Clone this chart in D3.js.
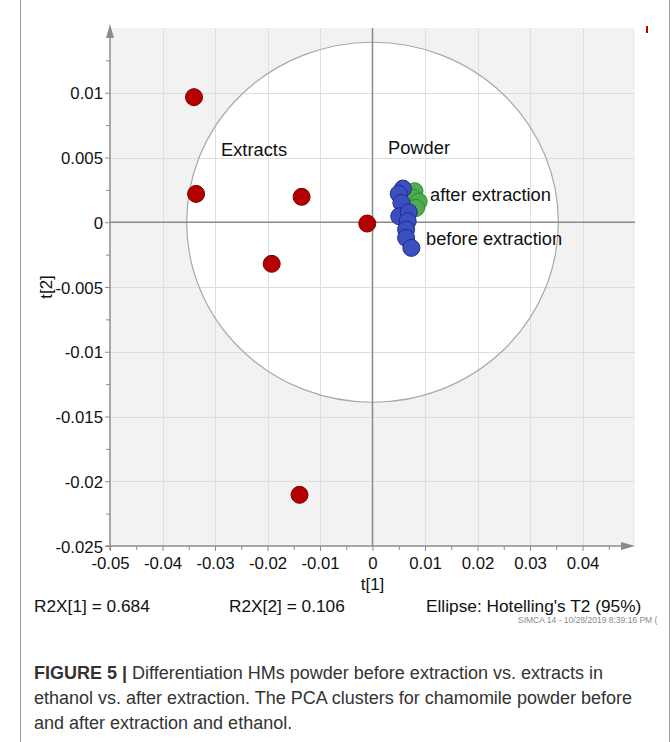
<!DOCTYPE html>
<html>
<head>
<meta charset="utf-8">
<script src="https://cdn.jsdelivr.net/npm/d3@7/dist/d3.min.js"></script>
<style>
  html, body { margin: 0; padding: 0; background: #fff; }
  svg { display: block; font-family: "Liberation Sans", Arial, sans-serif; }
</style>
</head>
<body>
<svg id="chart" width="672" height="742"></svg>
<script>
// PCA score plot (t[1] vs t[2]) with Hotelling's T2 ellipse
const extractsT1 = [-0.0340, -0.0336, -0.0135, -0.0010, -0.0192, -0.0139];
const extractsT2 = [0.00966, 0.00219, 0.00196, -0.00010, -0.00321, -0.02105];

const afterT1 = [0.0080, 0.0077, 0.0088, 0.0083];
const afterT2 = [0.0024, 0.0019, 0.0016, 0.0011];

const beforeT1 = [0.0058, 0.0050, 0.0055, 0.0051, 0.0069, 0.0067, 0.0064, 0.0064, 0.0074];
const beforeT2 = [0.0026, 0.0022, 0.0015, 0.00046, 0.00077, 0.00008, -0.00056, -0.00121, -0.00198];

const xTicks = [-0.05, -0.04, -0.03, -0.02, -0.01, 0, 0.01, 0.02, 0.03, 0.04];
const yTicks = [0.01, 0.005, 0, -0.005, -0.01, -0.015, -0.02, -0.025];
const xTickLabels = ["-0.05", "-0.04", "-0.03", "-0.02", "-0.01", "0", "0.01", "0.02", "0.03", "0.04"];
const yTickLabels = ["0.01", "0.005", "0", "-0.005", "-0.01", "-0.015", "-0.02", "-0.025"];

// Hotelling's T2 (95%) ellipse semi-axes
const ellipseT1 = 0.0354;
const ellipseT2 = 0.0139;

const stats = ["R2X[1] = 0.684", "R2X[2] = 0.106", "Ellipse: Hotelling's T2 (95%)"];

const svg = d3.select("#chart");

const x = d3.scaleLinear().domain([-0.05, 0.05]).range([110, 635]);
const y = d3.scaleLinear().domain([-0.025, 0.015]).range([546, 28]);

// outer frame
svg.append("line").attr("x1", 20.5).attr("x2", 20.5).attr("y1", 0).attr("y2", 742)
  .attr("stroke", "#9a9a9a").attr("stroke-width", 1);
svg.append("line").attr("x1", 669.5).attr("x2", 669.5).attr("y1", 0).attr("y2", 742)
  .attr("stroke", "#9a9a9a").attr("stroke-width", 1);

// plot background
svg.append("rect")
  .attr("x", x(-0.05)).attr("y", y(0.015))
  .attr("width", x(0.05) - x(-0.05)).attr("height", y(-0.025) - y(0.015))
  .attr("fill", "#f2f2f2");

// ellipse interior
svg.append("ellipse")
  .attr("cx", x(0)).attr("cy", y(0))
  .attr("rx", x(ellipseT1) - x(0)).attr("ry", y(0) - y(ellipseT2))
  .attr("fill", "#ffffff");

// grid
const grid = svg.append("g").attr("stroke", "#dedede").attr("stroke-width", 1);
grid.selectAll("line.v").data(xTicks.filter(d => d !== -0.05 && d !== 0)).join("line")
  .attr("class", "v")
  .attr("x1", d => Math.round(x(d)) + 0.5).attr("x2", d => Math.round(x(d)) + 0.5)
  .attr("y1", y(0.015)).attr("y2", y(-0.025));
grid.selectAll("line.h").data(yTicks.filter(d => d !== -0.025 && d !== 0)).join("line")
  .attr("class", "h")
  .attr("y1", d => Math.round(y(d)) + 0.5).attr("y2", d => Math.round(y(d)) + 0.5)
  .attr("x1", x(-0.05)).attr("x2", x(0.05));

// ellipse outline
svg.append("ellipse")
  .attr("cx", x(0)).attr("cy", y(0))
  .attr("rx", x(ellipseT1) - x(0)).attr("ry", y(0) - y(ellipseT2))
  .attr("fill", "none").attr("stroke", "#a8a8a8").attr("stroke-width", 1.2);

// zero lines
svg.append("line")
  .attr("x1", x(0)).attr("x2", x(0)).attr("y1", y(0.015)).attr("y2", y(-0.025))
  .attr("stroke", "#8a8a8a").attr("stroke-width", 1.5);
svg.append("line")
  .attr("x1", x(-0.05)).attr("x2", x(0.05)).attr("y1", y(0)).attr("y2", y(0))
  .attr("stroke", "#8a8a8a").attr("stroke-width", 1.5);

// axes
const axisColor = "#8c8c8c";
const yAxis = svg.append("g").attr("transform", `translate(${x(-0.05)},0)`)
  .call(d3.axisLeft(y).tickValues(yTicks).tickSize(5).tickFormat((d, i) => yTickLabels[i]));
const yMinor = svg.append("g").attr("transform", `translate(${x(-0.05)},0)`)
  .call(d3.axisLeft(y).tickValues(d3.range(-0.0225, 0.015, 0.005)).tickSize(4).tickFormat(""));
const xAxis = svg.append("g").attr("transform", `translate(0,${y(-0.025)})`)
  .call(d3.axisBottom(x).tickValues(xTicks).tickSize(5).tickFormat((d, i) => xTickLabels[i]));
const xMinor = svg.append("g").attr("transform", `translate(0,${y(-0.025)})`)
  .call(d3.axisBottom(x).tickValues(d3.range(-0.045, 0.05, 0.01)).tickSize(4).tickFormat(""));

[yAxis, yMinor, xAxis, xMinor].forEach(g => {
  g.select(".domain").remove();
  g.selectAll(".tick line").attr("stroke", axisColor);
  g.selectAll("text").attr("fill", "#111").attr("font-size", 16.8)
    .attr("font-family", "'Liberation Sans', Arial, sans-serif");
});
yAxis.selectAll("text").attr("x", -7).attr("dy", "0.36em");
xAxis.selectAll("text").attr("y", 10).attr("dy", "0.75em");

// axis lines with arrowheads
svg.append("line").attr("x1", x(-0.05)).attr("x2", x(-0.05))
  .attr("y1", y(-0.025) + 4).attr("y2", y(0.015) + 4)
  .attr("stroke", axisColor).attr("stroke-width", 1.5);
svg.append("path")
  .attr("d", `M${x(-0.05)},${y(0.015) - 4} l-4,14 l8,0 z`)
  .attr("fill", axisColor);
svg.append("line").attr("x1", x(-0.05) - 4).attr("x2", x(0.05) - 4)
  .attr("y1", y(-0.025)).attr("y2", y(-0.025))
  .attr("stroke", axisColor).attr("stroke-width", 1.5);
svg.append("path")
  .attr("d", `M${x(0.05)},${y(-0.025)} l-14,-4 l0,8 z`)
  .attr("fill", axisColor);

// axis titles
svg.append("text").attr("x", x(0)).attr("y", 590).attr("text-anchor", "middle")
  .attr("font-size", 17).attr("fill", "#111").text("t[1]");
svg.append("text").attr("transform", `translate(52,${(y(0.015) + y(-0.025)) / 2}) rotate(-90)`)
  .attr("text-anchor", "middle").attr("font-size", 17).attr("fill", "#111").text("t[2]");

// score points
function drawGroup(t1, t2, fill, stroke) {
  svg.append("g").selectAll("circle").data(d3.range(t1.length)).join("circle")
    .attr("cx", i => x(t1[i])).attr("cy", i => y(t2[i]))
    .attr("r", 8.5)
    .attr("fill", fill).attr("stroke", stroke).attr("stroke-width", 1);
}
drawGroup(extractsT1, extractsT2, "#b50000", "#7a0000");
drawGroup(afterT1, afterT2, "#4cae4c", "#2e8b37");
drawGroup(beforeT1, beforeT2, "#3b4fc2", "#1f2d86");

// group labels
const labels = [
  { text: "Extracts", x: 221, y: 156 },
  { text: "Powder", x: 388, y: 154 },
  { text: "after extraction", x: 430, y: 201 },
  { text: "before extraction", x: 426, y: 245 }
];
svg.append("g").selectAll("text").data(labels).join("text")
  .attr("x", d => d.x).attr("y", d => d.y)
  .attr("font-size", 18.3).attr("fill", "#111").text(d => d.text);

// small legend marker at top right
svg.append("rect").attr("x", 646).attr("y", 26).attr("width", 2).attr("height", 7).attr("fill", "#c00000");

// model statistics
svg.append("text").attr("x", 34).attr("y", 612).attr("font-size", 17.3).attr("fill", "#111").text(stats[0]);
svg.append("text").attr("x", 229).attr("y", 612).attr("font-size", 17.3).attr("fill", "#111").text(stats[1]);
svg.append("text").attr("x", 426).attr("y", 612).attr("font-size", 17.3).attr("fill", "#111").text(stats[2]);

// software stamp
svg.append("text").attr("x", 518).attr("y", 623).attr("font-size", 8.5).attr("fill", "#8a8a8a")
  .text("SIMCA 14 - 10/28/2019 8:39:16 PM (");

// caption
const caption = svg.append("g").attr("fill", "#333").attr("font-size", 18);
const line1 = caption.append("text").attr("x", 34).attr("y", 679);
line1.append("tspan").attr("font-weight", "bold").text("FIGURE 5 | ");
line1.append("tspan").text("Differentiation HMs powder before extraction vs. extracts in");
caption.append("text").attr("x", 34).attr("y", 704)
  .text("ethanol vs. after extraction. The PCA clusters for chamomile powder before");
caption.append("text").attr("x", 34).attr("y", 729)
  .text("and after extraction and ethanol.");
</script>
</body>
</html>
